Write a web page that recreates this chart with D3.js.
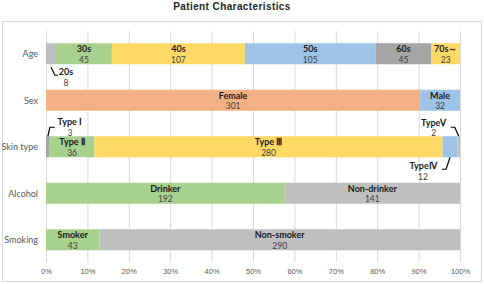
<!DOCTYPE html>
<html>
<head>
<meta charset="utf-8">
<script src="https://cdn.jsdelivr.net/npm/d3@7"></script>
<style>
  body { margin: 0; background: #fff; }
  svg { display: block; font-family: Lato, "Open Sans", sans-serif; }
</style>
</head>
<body>
<svg></svg>
<script>
const rows = ['Age', 'Sex', 'Skin type', 'Alcohol', 'Smoking'];
const ticks = [0, 0.1, 0.2, 0.3, 0.4, 0.5, 0.6, 0.7, 0.8, 0.9, 1];

const ageLabels = ['20s', '30s', '40s', '50s', '60s', '70s～'];
const ageValues = [8, 45, 107, 105, 45, 23];
const sexLabels = ['Female', 'Male'];
const sexValues = [301, 32];
const skinLabels = ['Type Ⅰ', 'Type Ⅱ', 'Type Ⅲ', 'TypeⅣ', 'TypeⅤ'];
const skinValues = [3, 36, 280, 12, 2];
const alcoholLabels = ['Drinker', 'Non-drinker'];
const alcoholValues = [192, 141];
const smokingLabels = ['Smoker', 'Non-smoker'];
const smokingValues = [43, 290];

const gray = '#bfbfbf', dgray = '#a5a5a5', green = '#a9d18e', yellow = '#ffd966',
      blue = '#9dc3e6', orange = '#f4b183';
const colors = {
  'Age': [gray, green, yellow, blue, dgray, yellow],
  'Sex': [orange, blue],
  'Skin type': [dgray, green, yellow, blue, gray],
  'Alcohol': [green, gray],
  'Smoking': [green, gray]
};

// labels drawn outside the bar with a leader line: [dx, dy] of the text from segment
const callouts = {
  'Age|0': {side: 'below'},
  'Skin type|0': {side: 'aboveLeft'},
  'Skin type|4': {side: 'aboveRight'},
  'Skin type|3': {side: 'belowRight'}
};

const rowData = {
  'Age': [ageLabels, ageValues],
  'Sex': [sexLabels, sexValues],
  'Skin type': [skinLabels, skinValues],
  'Alcohol': [alcoholLabels, alcoholValues],
  'Smoking': [smokingLabels, smokingValues]
};

const width = 484, height = 284;
const svg = d3.select('svg').attr('width', width).attr('height', height);

svg.append('rect')
  .attr('x', 2.5).attr('y', 21.5).attr('width', 479).attr('height', 260)
  .attr('fill', '#fff').attr('stroke', '#d9d9d9');

svg.append('text')
  .attr('x', 232).attr('y', 10)
  .attr('text-anchor', 'middle')
  .style('font-family', '"Liberation Sans", Arial, sans-serif')
  .style('font-weight', 'bold').style('font-size', '10px')
  .style('letter-spacing', '0.4px')
  .attr('fill', '#262626')
  .text('Patient  Characteristics');

const xScale = d3.scaleLinear().domain([0, 1]).range([46, 460]);
const yScale = d3.scalePoint().domain(rows).range([30.5, 263]).padding(0.5);
const barH = 21;

const g = svg.append('g');

// grid
g.append('g')
  .attr('transform', `translate(0, ${262})`)
  .call(d3.axisBottom(xScale).tickValues(ticks).tickFormat(d3.format('.0%')).tickSize(-231).tickPadding(7))
  .call(s => s.select('.domain').remove())
  .call(s => s.selectAll('.tick line').attr('stroke', '#d9d9d9'))
  .call(s => s.selectAll('.tick text').attr('fill', '#595959').style('font-size', '7.5px'));

g.append('g')
  .attr('transform', 'translate(38, 0)')
  .call(d3.axisLeft(yScale).tickSize(0).tickPadding(0))
  .call(s => s.select('.domain').remove())
  .call(s => s.selectAll('.tick text').attr('fill', '#595959').style('font-size', '9px')
    .style('font-family', 'Lato, sans-serif'));

rows.forEach(row => {
  const [labels, values] = rowData[row];
  const total = d3.sum(values);
  let cum = 0;
  const segs = values.map((v, i) => {
    const s = {row, i, label: labels[i], value: v, x0: cum / total, x1: (cum + v) / total};
    cum += v;
    return s;
  });
  const cy = yScale(row);
  const rg = g.append('g');

  rg.selectAll('rect').data(segs).enter().append('rect')
    .attr('x', d => xScale(d.x0))
    .attr('y', cy - barH / 2)
    .attr('width', d => xScale(d.x1) - xScale(d.x0))
    .attr('height', barH)
    .attr('fill', d => colors[row][d.i]);

  segs.forEach(d => {
    const c = callouts[row + '|' + d.i];
    const mx = (xScale(d.x0) + xScale(d.x1)) / 2;
    let tx = mx, ty = cy - 5, lines = null;
    const top = cy - barH / 2, bot = cy + barH / 2;
    if (c) {
      if (c.side === 'below') {
        tx = mx + 15; ty = bot + 7.5;
        lines = [[mx, bot + 3], [mx + 4, bot + 11], [mx + 7, bot + 11]];
      } else if (c.side === 'aboveLeft') {
        tx = mx + 22; ty = top - 14.5;
        lines = [[mx, top], [mx + 2, top - 9], [mx + 7, top - 9]];
      } else if (c.side === 'aboveRight') {
        tx = mx - 25; ty = top - 14;
        lines = [[mx, top], [mx - 4, top - 9], [mx - 8, top - 9]];
      } else if (c.side === 'belowRight') {
        tx = mx - 27; ty = bot + 8.5;
        lines = [[mx, bot], [mx - 4, bot + 12], [mx - 8, bot + 12]];
      }
      rg.append('path')
        .attr('d', d3.line()(lines))
        .attr('fill', 'none').attr('stroke', '#000').attr('stroke-width', 1.2);
    }
    rg.append('text')
      .attr('x', tx).attr('y', ty)
      .attr('text-anchor', 'middle').attr('dominant-baseline', 'central')
      .style('font-size', '9px').style('font-weight', 'bold')
      .attr('fill', '#1a1a1a')
      .text(d.label);
    rg.append('text')
      .attr('x', tx).attr('y', ty + 11)
      .attr('text-anchor', 'middle').attr('dominant-baseline', 'central')
      .style('font-size', '8.5px')
      .attr('fill', '#404040')
      .text(d.value);
  });
});
</script>
</body>
</html>
